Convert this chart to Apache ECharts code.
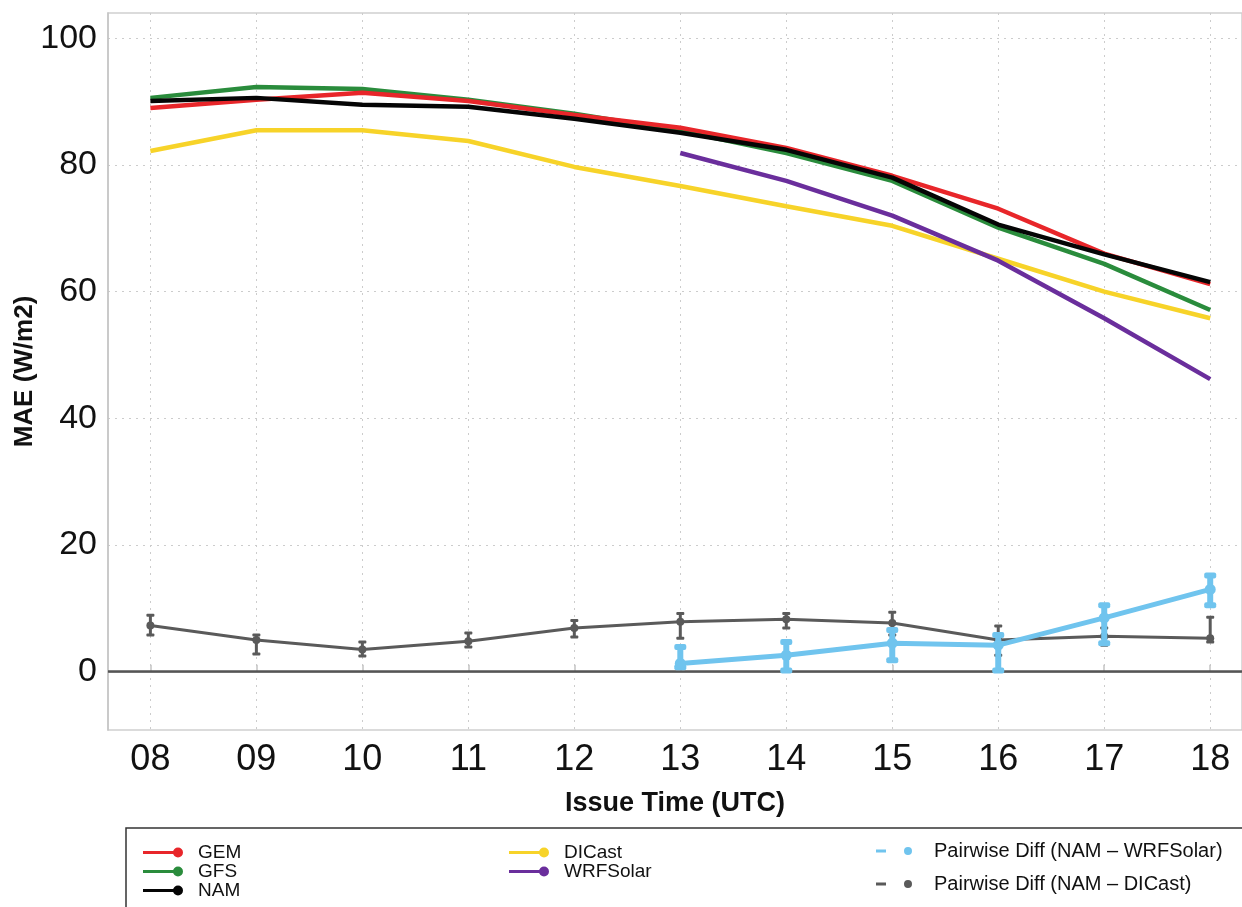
<!DOCTYPE html>
<html>
<head>
<meta charset="utf-8">
<script src="https://cdn.jsdelivr.net/npm/echarts@6/dist/echarts.min.js"></script>
<style>
  html, body { margin: 0; padding: 0; background: #fff; }
  #chart { width: 1242px; height: 907px; }
</style>
</head>
<body>
<div id="chart"></div>
<script>
// issue hours and tick labels
const hours = [8, 9, 10, 11, 12, 13, 14, 15, 16, 17, 18]
const hourLabels = ['08', '09', '10', '11', '12', '13', '14', '15', '16', '17', '18']
const yTicks = [0, 20, 40, 60, 80, 100]

// MAE per model (W/m2)
const gem = [89.0, 90.3, 91.4, 90.1, 87.9, 85.9, 82.7, 78.3, 73.1, 66.0, 61.2]
const gfs = [90.6, 92.3, 92.0, 90.3, 88.1, 85.4, 81.9, 77.5, 70.1, 64.4, 57.1]
const nam = [90.1, 90.6, 89.5, 89.2, 87.3, 85.1, 82.4, 78.0, 70.6, 65.9, 61.5]
const dicast = [82.2, 85.5, 85.5, 83.8, 79.7, 76.7, 73.5, 70.4, 65.2, 60.0, 55.8]
const wrfsolar = [null, null, null, null, null, 81.9, 77.5, 72.0, 64.9, 55.8, 46.2]

// pairwise differences with error bars
const diffNamDicast = [7.3, 5.0, 3.5, 4.8, 6.9, 7.9, 8.3, 7.7, 5.0, 5.6, 5.3]
const diffNamDicastLow = [5.8, 2.8, 2.5, 3.9, 5.5, 5.3, 6.9, 5.8, 2.6, 4.2, 4.7]
const diffNamDicastHigh = [8.9, 5.8, 4.7, 6.1, 8.1, 9.2, 9.2, 9.4, 7.2, 6.9, 8.6]
const diffNamWrf = [null, null, null, null, null, 1.3, 2.6, 4.5, 4.2, 8.5, 13.0]
const diffNamWrfLow = [null, null, null, null, null, 0.7, 0.2, 1.8, 0.2, 4.5, 10.5]
const diffNamWrfHigh = [null, null, null, null, null, 3.9, 4.7, 6.6, 5.8, 10.5, 15.2]

const pairWrfName = 'Pairwise Diff (NAM \u2013 WRFSolar)'
const pairDicastName = 'Pairwise Diff (NAM \u2013 DICast)'

function pts (arr) {
  return hours.map((h, i) => [h, arr[i]]).filter(p => p[1] !== null)
}
function bars (low, high) {
  return hours.map((h, i) => [h, low[i], high[i]]).filter(p => p[1] !== null)
}

function errorBar (capW, lineW, capH) {
  return function (params, api) {
    const top = api.coord([api.value(0), api.value(2)])
    const bot = api.coord([api.value(0), api.value(1)])
    const color = api.visual('color')
    return {
      type: 'group',
      children: [
        { type: 'line', shape: { x1: top[0], y1: top[1], x2: bot[0], y2: bot[1] }, style: { stroke: color, lineWidth: lineW } },
        { type: 'rect', shape: { x: top[0] - capW / 2, y: top[1] - capH / 2, width: capW, height: capH, r: capH / 3 }, style: { fill: color } },
        { type: 'rect', shape: { x: bot[0] - capW / 2, y: bot[1] - capH / 2, width: capW, height: capH, r: capH / 3 }, style: { fill: color } }
      ]
    }
  }
}

const lineIcon = 'path://M0,3.5H33V6.5H0Z M35,0A5,5 0 1,1 35,10A5,5 0 1,1 35,0Z'
const dashIcon = 'path://M0,2.5H10V5.5H0Z M32,0A4,4 0 1,1 32,8A4,4 0 1,1 32,0Z'

function modelLine (name, data, color) {
  return {
    name: name,
    type: 'line',
    data: pts(data),
    symbol: 'none',
    z: 5,
    lineStyle: { color: color, width: 4.5 },
    itemStyle: { color: color }
  }
}

const legendText = { fontSize: 19, lineHeight: 19, color: '#111', padding: [0, 0, 0, 10] }

const myChart = echarts.init(document.getElementById('chart'))
const option = {
  backgroundColor: '#fff',
  animation: false,
  textStyle: { fontFamily: 'Liberation Sans' },
  grid: {
    left: 108,
    top: 13,
    width: 1134,
    bottom: 177,
    outerBoundsMode: 'none',
    containLabel: false,
    show: true,
    borderColor: '#cfcfcf',
    borderWidth: 1.5
  },
  xAxis: {
    type: 'value',
    min: 7.6,
    max: 18.3,
    name: 'Issue Time (UTC)',
    nameLocation: 'middle',
    nameGap: 60,
    nameMoveOverlap: false,
    nameTextStyle: { fontSize: 27, fontWeight: 'bold', color: '#111' },
    axisLine: { lineStyle: { color: '#c4c4c4', width: 2 } },
    axisTick: { show: true, inside: true, length: 7, customValues: hours, lineStyle: { color: '#c4c4c4', width: 1.5 } },
    axisLabel: {
      customValues: hours,
      fontSize: 36,
      color: '#111',
      margin: 12,
      formatter: v => hourLabels[hours.indexOf(v)]
    },
    splitLine: { show: true, lineStyle: { type: [2, 5], color: '#cccccc', width: 1 } }
  },
  yAxis: {
    type: 'value',
    min: -9.2,
    max: 104,
    name: 'MAE (W/m2)',
    nameLocation: 'middle',
    nameGap: 70,
    nameMoveOverlap: false,
    nameTextStyle: { fontSize: 26, fontWeight: 'bold', color: '#111' },
    axisLine: { show: true, lineStyle: { color: '#c4c4c4', width: 1.5 } },
    axisTick: { show: false, customValues: yTicks },
    axisLabel: { customValues: yTicks, fontSize: 34, color: '#111', margin: 11 },
    splitLine: { show: true, lineStyle: { type: [2, 5], color: '#cccccc', width: 1 } }
  },
  graphic: [{
    type: 'rect',
    shape: { x: 126, y: 828, width: 1130, height: 100 },
    style: { fill: 'none', stroke: '#333', lineWidth: 1.5 },
    z: 100
  }],
  legend: [{
    left: 143,
    top: 843,
    height: 64,
    padding: 0,
    orient: 'vertical',
    itemGap: 0,
    itemWidth: 40,
    itemHeight: 10,
    textStyle: legendText,
    data: [{ name: 'GEM', icon: lineIcon }, { name: 'GFS', icon: lineIcon }, { name: 'NAM', icon: lineIcon }]
  }, {
    left: 509,
    top: 843,
    height: 64,
    padding: 0,
    orient: 'vertical',
    itemGap: 0,
    itemWidth: 40,
    itemHeight: 10,
    textStyle: legendText,
    data: [{ name: 'DICast', icon: lineIcon }, { name: 'WRFSolar', icon: lineIcon }]
  }, {
    left: 876,
    top: 841,
    height: 64,
    padding: 0,
    orient: 'vertical',
    itemGap: 13,
    itemWidth: 36,
    itemHeight: 8,
    textStyle: Object.assign({}, legendText, { fontSize: 20, padding: [0, 0, 0, 17] }),
    data: [{ name: pairWrfName, icon: dashIcon }, { name: pairDicastName, icon: dashIcon }]
  }],
  series: [
    modelLine('DICast', dicast, '#f7d329'),
    modelLine('WRFSolar', wrfsolar, '#6a2e9c'),
    modelLine('GFS', gfs, '#2a8c3c'),
    modelLine('GEM', gem, '#e8262a'),
    modelLine('NAM', nam, '#050505'),
    {
      name: pairDicastName,
      type: 'line',
      data: pts(diffNamDicast),
      symbol: 'circle',
      symbolSize: 8,
      z: 4,
      lineStyle: { color: '#5a5a5a', width: 3 },
      itemStyle: { color: '#5a5a5a' },
      markLine: {
        silent: true,
        symbol: 'none',
        label: { show: false },
        lineStyle: { color: '#555', width: 2.5, type: 'solid' },
        data: [{ yAxis: 0 }]
      }
    },
    {
      name: pairDicastName,
      type: 'custom',
      data: bars(diffNamDicastLow, diffNamDicastHigh),
      renderItem: errorBar(8, 3, 3),
      itemStyle: { color: '#5a5a5a' },
      z: 4
    },
    {
      name: pairWrfName,
      type: 'line',
      data: pts(diffNamWrf),
      symbol: 'circle',
      symbolSize: 11,
      z: 6,
      lineStyle: { color: '#70c4ee', width: 5 },
      itemStyle: { color: '#70c4ee' }
    },
    {
      name: pairWrfName,
      type: 'custom',
      data: bars(diffNamWrfLow, diffNamWrfHigh),
      renderItem: errorBar(12, 6, 6),
      itemStyle: { color: '#70c4ee' },
      z: 6
    }
  ]
}
myChart.setOption(option)
</script>
</body>
</html>
